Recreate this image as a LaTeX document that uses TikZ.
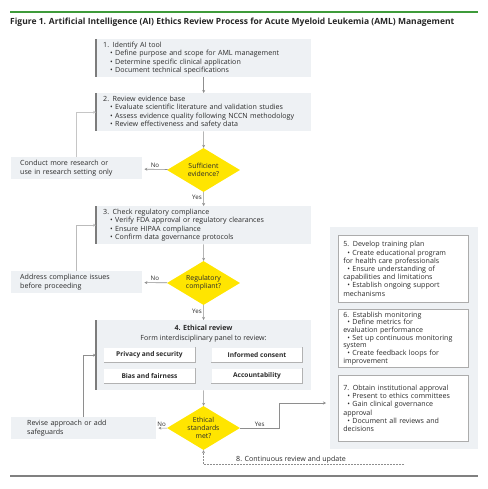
\documentclass[tikz,border=0pt]{standalone}
\usepackage{fontspec}
\setmainfont{Open Sans}
\usepackage{xcolor}
\definecolor{boxfill}{HTML}{EEF1F4}
\definecolor{lineg}{HTML}{8E8E8E}
\definecolor{barg}{HTML}{7C7C7C}
\definecolor{decide}{HTML}{FFE500}
\definecolor{titlegreen}{HTML}{3E9B3A}
\definecolor{inkg}{HTML}{2A2A2A}
\usetikzlibrary{positioning,shapes.geometric,arrows.meta}

\newcommand{\itm}{\hspace*{7pt}\textbullet\ }
\newcommand{\sitm}{\hspace*{4pt}\textbullet\ }

\begin{document}
\begin{tikzpicture}[x=1pt, y=-1pt, text=inkg,
    font=\fontsize{7.1}{8.2}\selectfont]
    \tikzstyle{stage}=[ %
      rectangle, fill=boxfill,
      anchor=north west,
      minimum width=215pt, minimum height=38pt,
      inner xsep=7pt, inner ysep=2pt,
      text width=201pt, align=left
    ]
    \tikzstyle{side}=[rectangle, fill=boxfill, anchor=north west,
      minimum width=113pt, minimum height=22pt, inner sep=0pt, align=left]
    \tikzstyle{task}=[rectangle, fill=white, draw=gray!65, line width=0.7pt,
      anchor=north west, minimum width=130pt,
      inner xsep=5pt, inner ysep=1pt, text width=120pt, align=left]
    \tikzstyle{facet}=[rectangle, fill=white, minimum width=91pt,
      minimum height=15pt, inner sep=0pt, font=\fontsize{6.6}{8}\selectfont\bfseries]
    \tikzstyle{check}=[diamond, fill=decide, aspect=1.66, inner sep=0.5pt,
      minimum width=73pt, minimum height=44pt, align=center,
      font=\fontsize{6.9}{7.6}\selectfont]
    \tikzstyle{flow}=[draw=lineg, line width=0.6pt,
      -{Stealth[length=3pt,width=3pt]}]
    \tikzstyle{lbl}=[font=\fontsize{6.2}{7}\selectfont, inner sep=1.5pt]
  %  \draw[help lines] (0,0) grid[step=20] (487,489);
    \useasboundingbox (0,0) rectangle (487,489);

    % heading and rules
    \draw[titlegreen, line width=2pt] (10,12) -- (478,12);
    \node[anchor=west, inner sep=0pt, text=black!85,
      font=\fontsize{8.5}{9.5}\selectfont\bfseries] (head) at (10,22)
      {Figure 1. Artificial Intelligence (AI) Ethics Review Process for Acute Myeloid Leukemia (AML) Management};
    \draw[gray, line width=1.2pt] (10,476) -- (478,476);

    % main column
    \path (96,39)  node(b1) [stage]
                {1. Identify AI tool\\
                 \itm Define purpose and scope for AML management\\
                 \itm Determine specific clinical application\\
                 \itm Document technical specifications}
          (96,93)  node(b2) [stage]
                {2. Review evidence base\\
                 \itm Evaluate scientific literature and validation studies\\
                 \itm Assess evidence quality following NCCN methodology\\
                 \itm Review effectiveness and safety data}
          (203.5,170) node(d1) [check] {Sufficient\\evidence?}
          (96,206) node(b3) [stage]
                {3. Check regulatory compliance\\
                 \itm Verify FDA approval or regulatory clearances\\
                 \itm Ensure HIPAA compliance\\
                 \itm Confirm data governance protocols}
          (203.5,283) node(d2) [check] {Regulatory\\compliant?}
          (96,320) node(b4) [stage, minimum height=70pt] {}
          (203.5,428) node(d3) [check] {Ethical\\standards\\met?};

    % ethical review panel
    \node[font=\fontsize{7.1}{8}\selectfont\bfseries] (b4t) at (203.5,328) {4. Ethical review};
    \node (b4s) at (203.5,339) {Form interdisciplinary panel to review:};
    \path (149.5,355) node(f1) [facet] {Privacy and security}
          (257,355)   node(f2) [facet] {Informed consent}
          (149.5,376) node(f3) [facet] {Bias and fairness}
          (257,376)   node(f4) [facet] {Accountability};
    \foreach \f in {f1,f2,f3,f4}
      \draw[gray!60, line width=0.8pt] (\f.north east) -- (\f.south east) -- (\f.south west);
    \foreach \b in {b1,b2,b3,b4}
      \draw[barg, line width=1.3pt] (\b.north west) -- (\b.south west);

    % side boxes
    \path (11,157) node(n1) [side, text width=113pt, inner xsep=9pt]
                {Conduct more research or\\use in research setting only}
          (11,271) node(n2) [side, text width=113pt, inner xsep=9pt]
                {Address compliance issues\\before proceeding}
          (11,417) node(n3) [side, text width=113pt, inner xsep=16pt]
                {Revise approach or add\\safeguards};

    % right panel
    \node[rectangle, fill=boxfill, anchor=north west, minimum width=148pt,
      minimum height=222pt] (panel) at (330,227) {};
    \path (338,235) node(b5) [task, minimum height=67pt]
                {5. Develop training plan\\
                 \sitm Create educational program\\
                 for health care professionals\\
                 \sitm Ensure understanding of\\
                 capabilities and limitations\\
                 \sitm Establish ongoing support\\
                 mechanisms}
          (338,309) node(b6) [task, minimum height=58pt,
                 font=\fontsize{7.1}{7.7}\selectfont]
                {6. Establish monitoring\\
                 \sitm Define metrics for\\
                 evaluation performance\\
                 \sitm Set up continuous monitoring\\
                 system\\
                 \sitm Create feedback loops for\\
                 improvement}
          (338,375) node(b7) [task, minimum height=66pt]
                {7. Obtain institutional approval\\
                 \sitm Present to ethics committees\\
                 \sitm Gain clinical governance\\
                 approval\\
                 \sitm Document all reviews and\\
                 decisions};

    % connectors
    \draw[flow] (b1) -- (b2);
    \draw[flow] (b2) -- (d1);
    \draw[flow] (d1) -- node[lbl, pos=0.35, left] {Yes} (b3);
    \draw[flow] (b3) -- (d2);
    \draw[flow] (d2) -- node[lbl, pos=0.4, left] {Yes} (b4);
    \draw[flow] (b4) -- (d3);
    \draw[flow, shorten >=2pt] (d1) -- node[lbl, midway, above] {No} (n1);
    \draw[flow, shorten >=2pt] (d2) -- node[lbl, midway, above] {No} (n2);
    \draw[flow, shorten >=2pt] (d3) -- node[lbl, midway, above] {No} (n3);
    \draw[flow, draw=lineg!50] (n1.north) |- (b2.west);
    \draw[flow, draw=lineg!60] (n2.north) |- (b3.west);
    \draw[flow] (n3.north) |- (b4.west);
    \coordinate (yestip) at (326,403);
    \draw[flow] (d3.east) -- node[lbl, midway, above] {Yes} ++(39,0) |- (yestip);
    \coordinate (loopend) at (404,464);
    \draw[flow, dashed, dash pattern=on 2pt off 1pt] (loopend) -| (d3.south);
    \node[anchor=base, inner sep=0pt] (cont) at (291,461) {8. Continuous review and update};
  \end{tikzpicture}
\end{document}
